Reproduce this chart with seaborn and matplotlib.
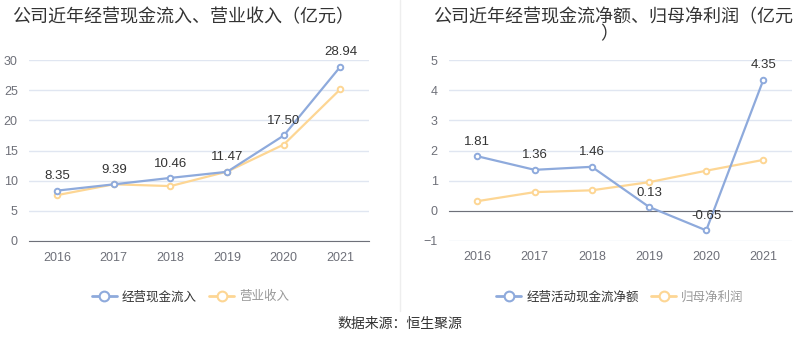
import pandas as pd
import seaborn as sns
import matplotlib.pyplot as plt

# data
years = ['2016', '2017', '2018', '2019', '2020', '2021']
cash_in = [8.35, 9.39, 10.46, 11.47, 17.50, 28.94]
revenue = [7.6, 9.4, 9.1, 11.5, 16.0, 25.2]
net_cash = [1.81, 1.36, 1.46, 0.13, -0.65, 4.35]
net_profit = [0.32, 0.62, 0.68, 0.95, 1.33, 1.69]

left_names = ['经营现金流入', '营业收入']
right_names = ['经营活动现金流净额', '归母净利润']
left_title = '公司近年经营现金流入、营业收入（亿元）'
right_title_1 = '公司近年经营现金流净额、归母净利润（亿元'
right_title_2 = '）'
source = '数据来源：恒生聚源'

BLUE = '#8eaadc'
ORANGE = '#fdd694'
GRID = '#e0e6f1'
AXIS = '#6e7079'

sns.set_style('white')
plt.rcParams['font.family'] = ['Liberation Sans', 'Noto Sans CJK SC']

fig = plt.figure(figsize=(8, 3.58), dpi=100)
ax1 = fig.add_axes([0.036, 0.327, 0.425, 0.505])
ax2 = fig.add_axes([0.561, 0.327, 0.429, 0.505])


def draw(ax, a, b, yticks):
    for vals, col, z in ((b, ORANGE, 3), (a, BLUE, 4)):
        df = pd.DataFrame({'year': years, 'value': vals})
        sns.lineplot(data=df, x='year', y='value', color=col, marker='o',
                     markersize=4, markerfacecolor='white', markeredgecolor=col,
                     markeredgewidth=1.4, linewidth=1.6, ax=ax, zorder=z)
    for i, v in enumerate(a):
        ax.annotate(f'{v:.2f}', (i, v), xytext=(0, 6), textcoords='offset points',
                    ha='center', va='bottom', fontsize=9.5, color='#333333', zorder=5)
    ax.set_xlim(-0.5, 5.5)
    ax.set_ylim(yticks[0], yticks[-1])
    ax.set_yticks(yticks)
    ax.grid(axis='y', color=GRID, linewidth=1)
    ax.set_axisbelow(True)
    ax.set_xlabel('')
    ax.set_ylabel('')
    for s in ['top', 'right', 'left']:
        ax.spines[s].set_visible(False)
    ax.spines['bottom'].set_color(AXIS)
    ax.tick_params(axis='y', length=0, labelsize=9, colors=AXIS, pad=8)
    ax.tick_params(axis='x', length=4, width=1, color=AXIS, labelsize=9,
                   labelcolor=AXIS, direction='out', pad=4)


draw(ax1, cash_in, revenue, [0, 5, 10, 15, 20, 25, 30])
draw(ax2, net_cash, net_profit, [-1, 0, 1, 2, 3, 4, 5])

# right chart: category axis sits on zero, labels stay at the bottom
ax2.spines['bottom'].set_position(('data', 0))
ax2.tick_params(axis='x', pad=25)

fig.text(0.229, 0.952, left_title, ha='center', va='center', fontsize=13, color='#333333')
fig.text(0.766, 0.952, right_title_1, ha='center', va='center', fontsize=13, color='#333333')
fig.text(0.761, 0.903, right_title_2, ha='center', va='center', fontsize=13, color='#333333')

# vertical separator
fig.add_artist(plt.Line2D([0.5, 0.5], [0.13, 1.0], color='#eeeeee', linewidth=1))


def legend(ax, names, x):
    handles = [plt.Line2D([], [], color=c, marker='o', markersize=7,
                          markerfacecolor='white', markeredgewidth=1.5, linewidth=2)
               for c in (BLUE, ORANGE)]
    lg = ax.legend(handles, names, loc='center', bbox_to_anchor=(x, 0.17),
                   bbox_transform=fig.transFigure, ncol=2, frameon=False,
                   fontsize=9, handlelength=2, handletextpad=0.4, columnspacing=1.0)
    lg.get_texts()[0].set_color('#333333')
    lg.get_texts()[1].set_color('#999999')


legend(ax1, left_names, 0.238)
legend(ax2, right_names, 0.775)

fig.text(0.5, 0.095, source, ha='center', va='center', fontsize=10, color='#333333')

fig.savefig('out.png', dpi=100)
